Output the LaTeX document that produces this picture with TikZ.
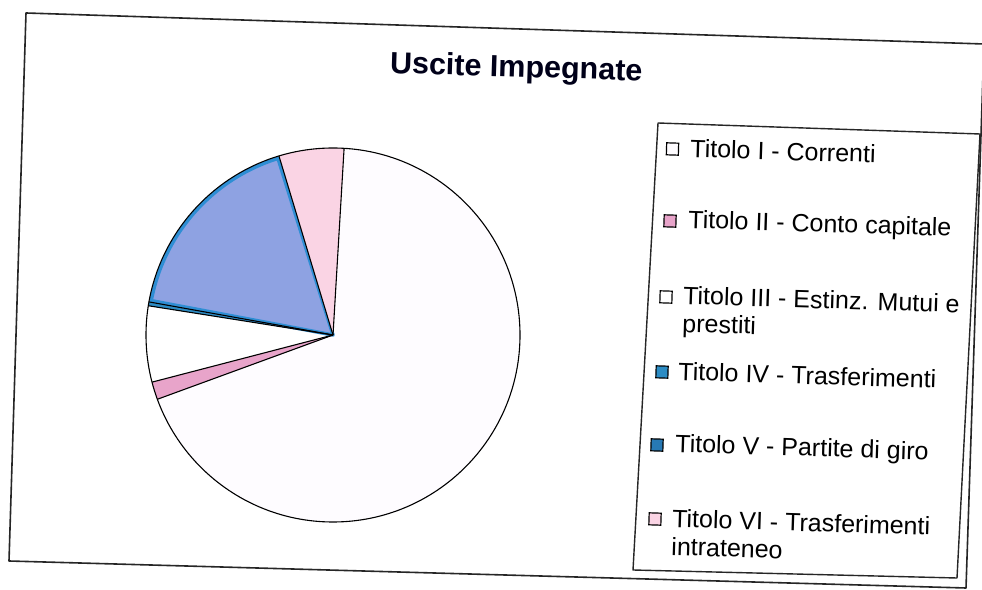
\documentclass[tikz,border=0pt]{standalone}
\usepackage{fontspec}
\setmainfont{Liberation Sans}
\usepackage{xcolor}
\usepackage{tikz}
\usetikzlibrary{calc}

\definecolor{correnti}{HTML}{FEFCFF}
\definecolor{capitale}{HTML}{E8A4CA}
\definecolor{mutui}{HTML}{FFFFFF}
\definecolor{trasfer}{HTML}{2C8CC4}
\definecolor{partite}{HTML}{8EA2E2}
\definecolor{partiteline}{HTML}{2E8ED4}
\definecolor{intrateneo}{HTML}{FAD4E4}

\begin{document}
\begin{tikzpicture}[x=1pt, y=1pt,
    frame/.style={draw=black!85, line width=1.6pt, line join=round},
    slice/.style={draw=black, line width=1.1pt, line join=round},
    marker/.style={draw=black, line width=1.2pt, minimum size=12pt, inner sep=0pt, rotate=-1.8},
    entry/.style={anchor=base west, inner sep=0pt, rotate=-1.8, align=left,
        font=\fontsize{25}{28}\selectfont}]
    \useasboundingbox (0,0) rectangle (982,589);
    \fill[white] (0,0) rectangle (982,589);
    \draw[frame] (26,576) -- (984,545) -- (966,1) -- (9,28) -- cycle;
    \node[anchor=base, inner sep=0pt, rotate=-1.8, text=black!90!blue,
        font=\bfseries\fontsize{30.5}{34}\selectfont] (title) at (516,512) {Uscite Impegnate};

    % pie
    \coordinate (c) at (333,254);
    \fill[correnti] (c) -- ++(200.1:187) arc[start angle=200.1, end angle=446.6, radius=187] -- cycle;
    \fill[capitale] (c) -- ++(194.6:187) arc[start angle=194.6, end angle=200.1, radius=187] -- cycle;
    \fill[mutui] (c) -- ++(171:187) arc[start angle=171, end angle=194.6, radius=187] -- cycle;
    \fill[trasfer] (c) -- ++(169.8:187) arc[start angle=169.8, end angle=171, radius=187] -- cycle;
    \filldraw[fill=partite, draw=partiteline, line width=3.5pt, line join=round]
        (c) -- ++(107.3:185) arc[start angle=107.3, end angle=169.3, radius=185] -- cycle;
    \fill[intrateneo] (c) -- ++(86.6:187) arc[start angle=86.6, end angle=106.8, radius=187] -- cycle;
    \draw[slice] (c) circle[radius=187];
    \foreach \a in {86.6,106.8,169.8,171,194.6,200.1}
        \draw[slice] (c) -- ++(\a:187);

    % legend
    \draw[frame, fill=white, line width=1.4pt] (658,466) -- (980,455) -- (957,11) -- (633,19) -- cycle;
    \node[marker, fill=correnti] (m1) at (672.5,440) {};
    \node[entry] (t1) at (690,432) {Titolo I - Correnti};
    \node[marker, fill=capitale] (m2) at (670,368) {};
    \node[entry] (t2) at (688,361) {Titolo II - Conto capitale};
    \node[marker, fill=mutui] (m3) at (666,292) {};
    \node[entry] (t3) at (682,257) {Titolo III - Estinz. Mutui e\\prestiti};
    \node[marker, fill=trasfer] (m4) at (662,217) {};
    \node[entry] (t4) at (678,209) {Titolo IV - Trasferimenti};
    \node[marker, fill=partiteline!85!black] (m5) at (657,144) {};
    \node[entry] (t5) at (675,137) {Titolo V - Partite di giro};
    \node[marker, fill=intrateneo] (m6) at (655,70) {};
    \node[entry] (t6) at (671,34) {Titolo VI - Trasferimenti\\intrateneo};
\end{tikzpicture}
\end{document}
